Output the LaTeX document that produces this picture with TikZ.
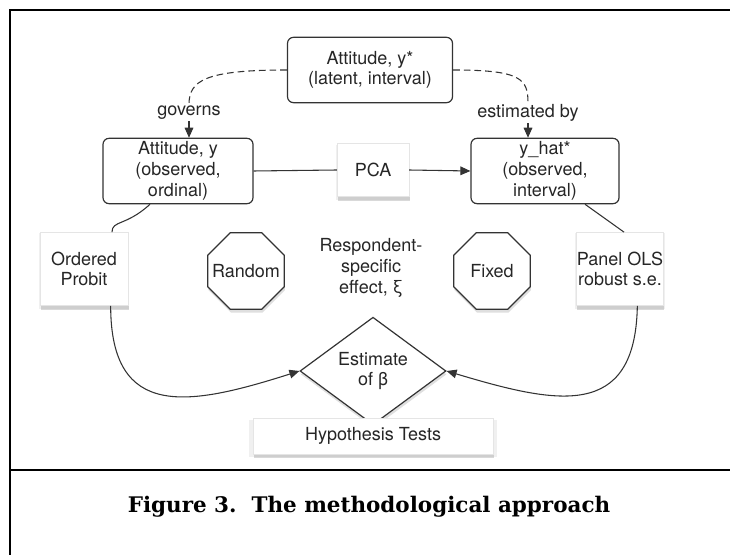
\documentclass[tikz,border=0pt]{standalone}
\usepackage{fontspec}
\setmainfont{TeX Gyre Heros}
\newfontfamily\capfont{DejaVu Serif}
\usetikzlibrary{shapes.geometric,arrows.meta,shadows,calc}
\begin{document}
\begin{tikzpicture}[x=0.75pt,y=-0.75pt,
  every node/.style={font=\fontsize{13.5}{15.5}\selectfont, text=black!85},
  rbox/.style={draw=black!80, line width=0.9pt, rounded corners=4.5pt, fill=white, align=center, inner sep=0pt},
  sbox/.style={fill=white, draw=black!10, line width=0.3pt, align=center, inner sep=0pt,
    drop shadow={shadow xshift=0pt, shadow yshift=-1.5pt, opacity=0.12, shadow scale=1.03},
    drop shadow={shadow xshift=0.5pt, shadow yshift=-3pt, opacity=0.3}},
  oct/.style={regular polygon, regular polygon sides=8, minimum size=62pt, inner sep=0pt,
    draw=black!80, line width=0.9pt, fill=white,
    drop shadow={shadow xshift=0.5pt, shadow yshift=-2.5pt, opacity=0.25}},
  dia/.style={diamond, minimum width=109.5pt, minimum height=69pt, inner sep=0pt, align=center,
    draw=black!80, line width=0.9pt, fill=white,
    drop shadow={shadow xshift=0.5pt, shadow yshift=-2.5pt, opacity=0.25}},
  conn/.style={draw=black!80, line width=0.8pt},
  dsh/.style={dash pattern=on 5pt off 3pt},
  tip/.style={-{Triangle[length=7.5pt,width=6.5pt]}},
  lbl/.style={fill=white, inner sep=1pt}
]
\useasboundingbox (0,0) rectangle (730,555);
% frame
\draw[line width=2pt] (10,555) -- (10,10) -- (730,10);
\draw[line width=2pt] (10,470) -- (730,470);
\node[font=\capfont\bfseries\fontsize{16.1}{19}\selectfont, text=black] (cap) at (369,507) {Figure 3.\ \ The methodological approach};

% nodes
\node[rbox, minimum width=123.75pt, minimum height=49pt] (top) at (370,70) {Attitude, y*\\(latent, interval)};
\node[rbox, minimum width=112.5pt, minimum height=49pt] (aty) at (178,171) {Attitude, y\\(observed,\\ordinal)};
\node[rbox, minimum width=111pt, minimum height=49pt] (yhat) at (545,171) {y\_hat*\\(observed,\\interval)};
\node[sbox, minimum width=54pt, minimum height=40pt] (pca) at (373,170) {PCA};
\node[align=center] (resp) at (371,268) {Respondent-\\specific\\effect, ξ};
\node[oct] (rand) at (246,271) {\makebox[0pt][c]{Random}};
\node[oct] (fix) at (492,271) {\makebox[0pt][c]{Fixed}};
\node[sbox, minimum width=66pt, minimum height=55pt] (probit) at (84,269) {Ordered\\Probit};
\node[sbox, minimum width=65pt, minimum height=55pt] (panel) at (620,269) {Panel OLS\\robust s.e.};
\node[dia] (diam) at (373,371) {Estimate\\of β};
\node[sbox, minimum width=180pt, minimum height=27pt] (hyp) at (373,436) {Hypothesis Tests};

\node[lbl] (gov) at (189,113) {governs};
\node[lbl] (est) at (528,113) {estimated by};

% connectors
\draw[conn, dsh] (top.west) .. controls +(-82,0) and +(0,-24) .. (gov.north);
\draw[conn, dsh, tip] (gov.south) -- (gov.south |- aty.north);
\draw[conn, dsh] (top.east) .. controls +(68,0) and +(0,-24) .. (est.north);
\draw[conn, dsh, tip] (est.south) -- (est.south |- yhat.north);

\draw[conn] (aty.east) -- (pca.west);
\draw[conn, tip] (pca.east) -- (yhat.west);

\draw[conn] ([xshift=-21pt]aty.south) .. controls +(-24,22) and +(0,-12) .. ([xshift=21pt]probit.north);
\draw[conn] ([xshift=30pt]yhat.south) -- ([xshift=3pt]panel.north);

\draw[conn, tip] ([xshift=20pt]probit.south) .. controls +(0,115) and +(-110,35) .. (diam.west);
\draw[conn, tip] ([xshift=13pt]panel.south) .. controls +(-2,115) and +(110,33) .. (diam.east);
\end{tikzpicture}
\end{document}
